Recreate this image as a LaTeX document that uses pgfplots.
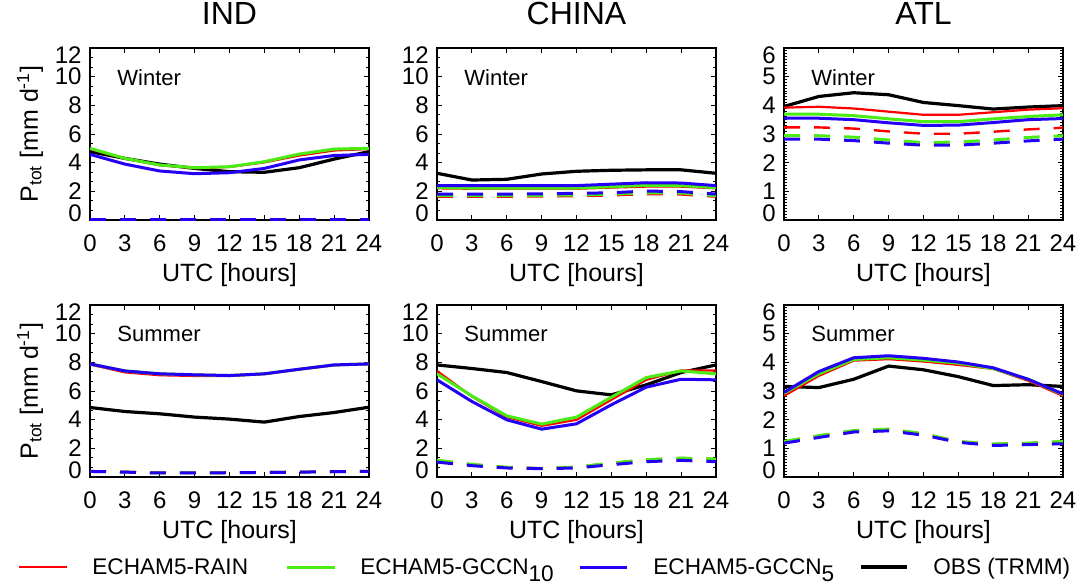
\documentclass[border=0pt]{standalone}
\usepackage{fontspec}
\setmainfont{Liberation Sans}
\usepackage{pgfplots}
\usepackage{pgfplotstable}
\pgfplotsset{compat=1.18}

\definecolor{rainc}{RGB}{255,0,0}
\definecolor{gtenc}{RGB}{75,235,20}
\definecolor{gfivec}{RGB}{35,0,245}

% diurnal cycle, columns: hour, OBS, RAIN, GCCN10, GCCN5, then the dashed counterparts
\pgfplotstableread{
x  obs  rain g10  g5   rainD g10D g5D
0  4.77 4.95 5.00 4.58 0.07 0.07 0.07
3  4.30 4.28 4.30 3.90 0.07 0.07 0.07
6  3.90 3.82 3.84 3.42 0.07 0.07 0.07
9  3.60 3.62 3.65 3.23 0.07 0.07 0.07
12 3.37 3.70 3.72 3.30 0.07 0.07 0.07
15 3.33 4.02 4.07 3.60 0.07 0.07 0.07
18 3.65 4.50 4.60 4.19 0.07 0.07 0.07
21 4.25 4.85 4.95 4.50 0.07 0.07 0.07
24 4.77 4.95 5.00 4.58 0.07 0.07 0.07
}\indW
\pgfplotstableread{
x  obs  rain g10  g5   rainD g10D g5D
0  3.26 2.21 2.26 2.40 1.63 1.70 1.81
3  2.79 2.18 2.23 2.40 1.63 1.70 1.81
6  2.84 2.18 2.23 2.40 1.63 1.70 1.81
9  3.21 2.18 2.23 2.40 1.65 1.72 1.83
12 3.40 2.18 2.23 2.40 1.67 1.74 1.86
15 3.47 2.26 2.32 2.50 1.72 1.80 1.90
18 3.50 2.33 2.42 2.60 1.81 1.90 2.02
21 3.50 2.33 2.40 2.58 1.78 1.88 1.98
24 3.26 2.21 2.26 2.40 1.63 1.70 1.81
}\chnW
\pgfplotstableread{
x  obs  rain g10  g5   rainD g10D g5D
0  3.96 3.92 3.69 3.55 3.23 2.94 2.82
3  4.31 3.95 3.69 3.55 3.23 2.94 2.82
6  4.44 3.89 3.64 3.50 3.19 2.89 2.77
9  4.37 3.78 3.53 3.39 3.09 2.79 2.68
12 4.10 3.67 3.43 3.30 3.01 2.70 2.61
15 3.99 3.67 3.43 3.31 3.01 2.72 2.61
18 3.87 3.76 3.53 3.40 3.08 2.79 2.68
21 3.94 3.85 3.61 3.50 3.16 2.88 2.76
24 3.99 3.90 3.67 3.54 3.22 2.94 2.82
}\atlW
\pgfplotstableread{
x  obs  rain g10  g5   rainD g10D g5D
0  4.85 7.85 7.89 7.89 0.40 0.39 0.39
3  4.57 7.30 7.40 7.40 0.36 0.34 0.34
6  4.41 7.10 7.20 7.20 0.30 0.28 0.28
9  4.18 7.05 7.13 7.13 0.30 0.28 0.28
12 4.04 7.05 7.08 7.08 0.32 0.30 0.30
15 3.83 7.18 7.20 7.20 0.34 0.32 0.32
18 4.22 7.50 7.52 7.52 0.36 0.34 0.34
21 4.50 7.80 7.82 7.82 0.38 0.37 0.37
24 4.87 7.87 7.89 7.89 0.40 0.39 0.39
}\indS
\pgfplotstableread{
x  obs  rain g10  g5   rainD g10D g5D
0  7.82 7.40 7.20 6.78 1.16 1.16 1.04
3  7.57 5.62 5.66 5.27 0.88 0.88 0.79
6  7.29 4.18 4.27 3.99 0.68 0.68 0.63
9  6.66 3.57 3.69 3.34 0.60 0.60 0.58
12 6.01 3.99 4.18 3.71 0.70 0.70 0.63
15 5.73 5.39 5.57 5.04 0.97 0.97 0.86
18 6.43 6.78 6.94 6.27 1.21 1.21 1.07
21 7.29 7.43 7.40 6.82 1.32 1.32 1.16
24 7.82 7.43 7.20 6.78 1.25 1.25 1.07
}\chnS
\pgfplotstableread{
x  obs  rain g10  g5   rainD g10D g5D
0  3.16 2.83 2.92 2.95 1.24 1.24 1.18
3  3.12 3.53 3.60 3.68 1.44 1.44 1.38
6  3.41 4.06 4.10 4.16 1.62 1.62 1.57
9  3.87 4.11 4.16 4.23 1.67 1.67 1.61
12 3.74 4.03 4.08 4.14 1.51 1.51 1.46
15 3.50 3.91 3.97 4.01 1.24 1.24 1.21
18 3.19 3.77 3.78 3.81 1.15 1.15 1.10
21 3.22 3.36 3.41 3.41 1.18 1.18 1.13
24 3.16 2.83 2.88 2.90 1.24 1.24 1.16
}\atlS

\pgfplotsset{
  panel/.style={
    scale only axis, width=139.5pt, height=86pt, anchor=north west,
    xmin=0, xmax=24, xtick={0,3,...,24},
    xticklabels={0,3,6,9,12,15,18,21,24},
    tick align=inside, major tick length=2.5pt, minor tick length=1.4pt,
    axis line style={line width=0.6pt},
    every tick/.style={black, line width=0.5pt},
    tick label style={font=\fontsize{12}{14}\selectfont},
    xticklabel style={anchor=center, inner sep=0pt, yshift=-11.5pt},
    yticklabel style={anchor=east, inner sep=0pt, xshift=-4pt},
    xlabel={UTC [hours]},
    xlabel style={font=\fontsize{12.5}{15}\selectfont, at={(axis description cs:0.5,0)}, anchor=base, yshift=-30.5pt},
    title style={font=\fontsize{16}{19}\selectfont, at={(axis description cs:0.5,1)}, anchor=center, yshift=11.5pt},
  },
  big/.style={ymin=0, ymax=12, ytick={0,2,...,12}, minor y tick num=2,
    yticklabels={\raisebox{3.5pt}[\height][\depth]{0},2,4,6,8,10,\raisebox{-3.5pt}[\height][\depth]{12}}},
  small/.style={ymin=0, ymax=6, ytick={0,...,6}, minor y tick num=9,
    yticklabels={\raisebox{3.5pt}[\height][\depth]{0},1,2,3,4,5,\raisebox{-3.5pt}[\height][\depth]{6}}},
  plab/.style={ylabel={P\textsubscript{tot} [mm d\textsuperscript{-1}]},
    ylabel style={font=\fontsize{12.5}{15}\selectfont, at={(axis description cs:-0.215,0.5)}, anchor=center, rotate=0}},
  dsh/.style={dash pattern=on 8pt off 7pt},
}

\newcommand{\drawseries}[1]{%
  \addplot[rainc, line width=1.2pt, dsh] table[x=x,y=rainD]{#1};
  \addplot[gtenc, line width=1.5pt, dsh] table[x=x,y=g10D]{#1};
  \addplot[gfivec, line width=1.5pt, dsh] table[x=x,y=g5D]{#1};
  \addplot[black, line width=1.6pt] table[x=x,y=obs]{#1};
  \addplot[rainc, line width=1.1pt] table[x=x,y=rain]{#1};
  \addplot[gtenc, line width=1.5pt] table[x=x,y=g10]{#1};
  \addplot[gfivec, line width=1.5pt] table[x=x,y=g5]{#1};
}
\newcommand{\season}[1]{\node[anchor=west, inner sep=0pt, font=\fontsize{11}{13}\selectfont] at (axis description cs:0.097,0.83) {#1};}

\begin{document}
\begin{tikzpicture}
\path[use as bounding box] (0,0) rectangle (539pt,-293pt);

\begin{axis}[panel, big, plab, at={(45pt,-24pt)}, title={IND}]
\drawseries{\indW}
\season{Winter}
\end{axis}
\begin{axis}[panel, big, at={(218.5pt,-24pt)}, title={CHINA}]
\drawseries{\chnW}
\season{Winter}
\end{axis}
\begin{axis}[panel, small, at={(392pt,-24pt)}, title={ATL}]
\drawseries{\atlW}
\season{Winter}
\end{axis}

\begin{axis}[panel, big, plab, at={(45pt,-152.5pt)}]
\drawseries{\indS}
\season{Summer}
\end{axis}
\begin{axis}[panel, big, at={(218.5pt,-152.5pt)}]
\drawseries{\chnS}
\season{Summer}
\end{axis}
\begin{axis}[panel, small, at={(392pt,-152.5pt)}]
\drawseries{\atlS}
\season{Summer}
\end{axis}

% legend row
\begin{scope}[font=\fontsize{11.3}{13}\selectfont]
\draw[rainc, line width=1.1pt] (9.5pt,-283.5pt) -- (33.5pt,-283.5pt);
\node[anchor=base west, inner sep=0pt] at (46pt,-287pt) {ECHAM5-RAIN};
\draw[gtenc, line width=1.5pt] (143.5pt,-283.5pt) -- (167.5pt,-283.5pt);
\node[anchor=base west, inner sep=0pt] at (180pt,-287pt) {ECHAM5-GCCN\raisebox{-3.8pt}{10}};
\draw[gfivec, line width=1.5pt] (290pt,-283.5pt) -- (313.5pt,-283.5pt);
\node[anchor=base west, inner sep=0pt] at (326.5pt,-287pt) {ECHAM5-GCCN\raisebox{-3.8pt}{5}};
\draw[black, line width=1.8pt] (430.5pt,-283.5pt) -- (453.5pt,-283.5pt);
\node[anchor=base west, inner sep=0pt] at (466.5pt,-287pt) {OBS (TRMM)};
\end{scope}
\end{tikzpicture}
\end{document}
